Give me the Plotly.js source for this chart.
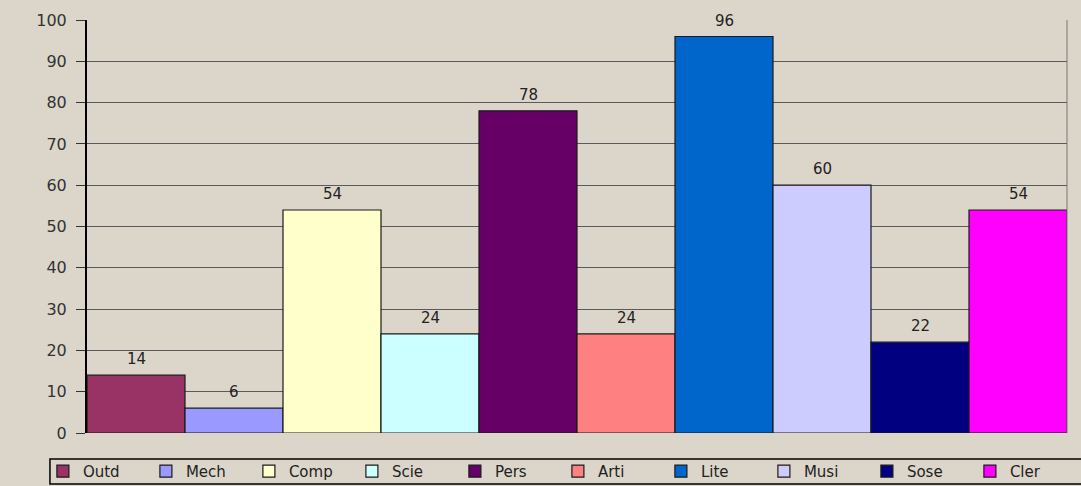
<!DOCTYPE html>
<html>
<head>
<meta charset="utf-8">
<script src="https://cdn.plot.ly/plotly-3.0.1.min.js"></script>
<style>
html,body{margin:0;padding:0;background:#dcd6ca;}
#chart{width:1081px;height:486px;}
</style>
</head>
<body>
<div id="chart"></div>
<script>
const categories = ["Outd","Mech","Comp","Scie","Pers","Arti","Lite","Musi","Sose","Cler"];
const values = [14, 6, 54, 24, 78, 24, 96, 60, 22, 54];
const colors = ["#993366","#9999FF","#FFFFCC","#CCFFFF","#660066","#FF8080","#0066CC","#CCCCFF","#000080","#FF00FF"];
const yTicks = [0,10,20,30,40,50,60,70,80,90,100];

const traces = categories.map((name, i) => ({
  type: "bar",
  name: name,
  x: [name],
  y: [values[i]],
  marker: {color: colors[i], line: {color: "#1a1a1a", width: 1.2}},
  hoverinfo: "none"
}));

const annotations = categories.map((name, i) => ({
  x: name, y: values[i], xref: "x", yref: "y",
  text: String(values[i]), showarrow: false,
  yanchor: "bottom", yshift: 5,
  font: {family: "DejaVu Sans", size: 15, color: "#222"}
}));

const layout = {
  width: 1081, height: 486,
  margin: {l: 87, r: 14, t: 20, b: 53, autoexpand: false},
  paper_bgcolor: "#dcd6ca",
  plot_bgcolor: "#dcd6ca",
  barmode: "overlay",
  bargap: 0,
  showlegend: true,
  xaxis: {type: "category", categoryorder: "array", categoryarray: categories,
          range: [-0.5, 9.5], showticklabels: false, showgrid: false, zeroline: false, showline: false, fixedrange: true},
  yaxis: {
    range: [0, 100], tickvals: yTicks, ticktext: yTicks.map(String),
    showgrid: true, gridcolor: "#5a5a5a", gridwidth: 1,
    zeroline: false, showline: true, linecolor: "#000", linewidth: 2,
    ticks: "outside", ticklen: 9, tickcolor: "#333", tickwidth: 1,
    tickfont: {family: "DejaVu Sans", size: 16, color: "#333"},
    ticklabelstandoff: 6
  },
  legend: {
    orientation: "h", x: -0.045, xanchor: "left", y: -0.053, yanchor: "top",
    bgcolor: "rgba(0,0,0,0)", borderwidth: 0,
    font: {family: "DejaVu Sans", size: 15, color: "#222"},
    entrywidth: 58, entrywidthmode: "pixels",
    traceorder: "normal", itemclick: false, itemdoubleclick: false
  },
  annotations: annotations,
  shapes: [
    {type: "line", xref: "paper", yref: "paper", x0: 1, x1: 1, y0: 0, y1: 1, line: {color: "#777", width: 1}},
    {type: "rect", xref: "paper", yref: "paper", x0: -0.0378, x1: 1.02, y0: -0.1235, y1: -0.063,
     line: {color: "#000", width: 1.5}, fillcolor: "rgba(0,0,0,0)", layer: "below"}
  ]
};

Plotly.newPlot("chart", traces, layout, {displayModeBar: false, staticPlot: true});
</script>
</body>
</html>
